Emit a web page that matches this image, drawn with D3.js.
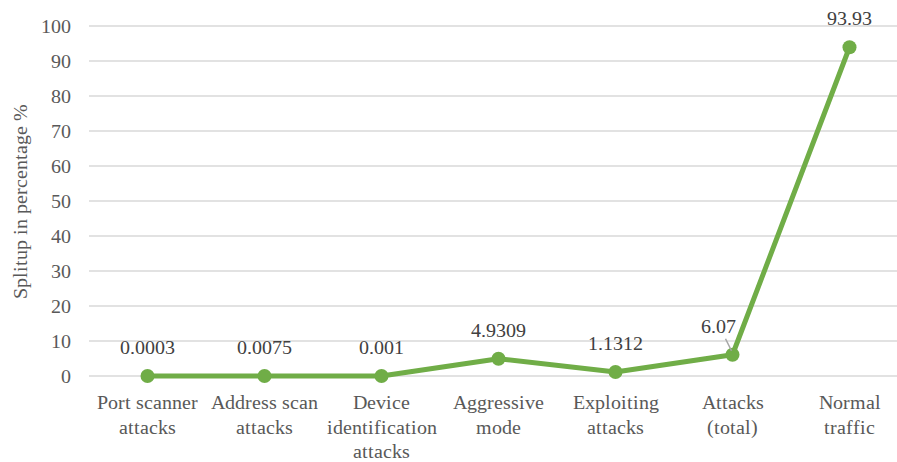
<!DOCTYPE html>
<html>
<head>
<meta charset="utf-8">
<script src="https://cdn.jsdelivr.net/npm/d3@7"></script>
<style>
  @font-face {
    font-family: "ChartSerif";
    src: local("Liberation Serif"), local("LiberationSerif"), local("Liberation Serif Regular"), local("LiberationSerif-Regular");
    font-display: swap;
  }
</style>
</head>
<body style="margin:0">
<div id="chart"></div>
<script>
// data
var categories = [
    ["Port scanner", "attacks"],
    ["Address scan", "attacks"],
    ["Device", "identification", "attacks"],
    ["Aggressive", "mode"],
    ["Exploiting", "attacks"],
    ["Attacks", "(total)"],
    ["Normal", "traffic"]
];
var values = [0.0003, 0.0075, 0.001, 4.9309, 1.1312, 6.07, 93.93];
var valueLabels = ["0.0003", "0.0075", "0.001", "4.9309", "1.1312", "6.07", "93.93"];
var yTicks = [0, 10, 20, 30, 40, 50, 60, 70, 80, 90, 100];

var w = 897,
    h = 462,
    svg = d3.select("#chart")
            .append("svg")
            .attr("width", w)
            .attr("height", h);

var textColor = "#595959";

// scales
var x = d3.scalePoint()
    .domain(d3.range(values.length))
    .range([89, 908])
    .padding(0.5);

var y = d3.scaleLinear()
    .domain([0, 100])
    .range([376, 26]);

// gridlines
svg.append("g")
    .selectAll("line")
    .data(yTicks)
    .enter().append("line")
    .attr("x1", 89)
    .attr("x2", w)
    .attr("y1", function(d) { return y(d); })
    .attr("y2", function(d) { return y(d); })
    .attr("stroke", "#d9d9d9")
    .attr("stroke-width", 1.5);

// y axis labels
svg.append("g")
    .selectAll("text")
    .data(yTicks)
    .enter().append("text")
    .attr("x", 71)
    .attr("y", function(d) { return y(d) + 7; })
    .attr("text-anchor", "end")
    .attr("fill", textColor)
    .call(serif)
    .text(function(d) { return d; });

// y axis title
svg.append("text")
    .attr("transform", "translate(27,201) rotate(-90)")
    .attr("text-anchor", "middle")
    .attr("fill", textColor)
    .call(serif)
    .text("Splitup in percentage %");

// category labels
var cat = svg.append("g")
    .selectAll("text")
    .data(categories)
    .enter().append("text")
    .attr("text-anchor", "middle")
    .attr("fill", textColor)
    .call(serif);

cat.selectAll("tspan")
    .data(function(d, i) { return d.map(function(t) { return {t: t, i: i}; }); })
    .enter().append("tspan")
    .attr("x", function(d) { return x(d.i); })
    .attr("y", function(d, j) { return 409 + j * 24.5; })
    .text(function(d) { return d.t; });

// data line
var line = d3.line()
    .x(function(d, i) { return x(i); })
    .y(function(d) { return y(d); });

svg.append("path")
    .datum(values)
    .attr("fill", "none")
    .attr("stroke", "#70ad47")
    .attr("stroke-width", 5)
    .attr("stroke-linejoin", "round")
    .attr("d", line);

svg.append("g")
    .selectAll("circle")
    .data(values)
    .enter().append("circle")
    .attr("cx", function(d, i) { return x(i); })
    .attr("cy", function(d) { return y(d); })
    .attr("r", 7)
    .attr("fill", "#70ad47");

// leader line for the 6.07 label
svg.append("line")
    .attr("x1", x(5) - 7)
    .attr("y1", y(values[5]) - 16)
    .attr("x2", x(5) - 1)
    .attr("y2", y(values[5]) - 4)
    .attr("stroke", "#a6a6a6")
    .attr("stroke-width", 1.5);

// value labels
svg.append("g")
    .selectAll("text")
    .data(values)
    .enter().append("text")
    .attr("x", function(d, i) { return i === 5 ? x(i) - 14 : x(i); })
    .attr("y", function(d) { return y(d) - 22; })
    .attr("text-anchor", "middle")
    .attr("fill", "#404040")
    .call(serif)
    .text(function(d, i) { return valueLabels[i]; });

function serif(sel) {
    sel.style("font-family", "ChartSerif, 'Liberation Serif', 'Times New Roman', Tinos")
       .style("font-size", "20px");
}
</script>
</body>
</html>
